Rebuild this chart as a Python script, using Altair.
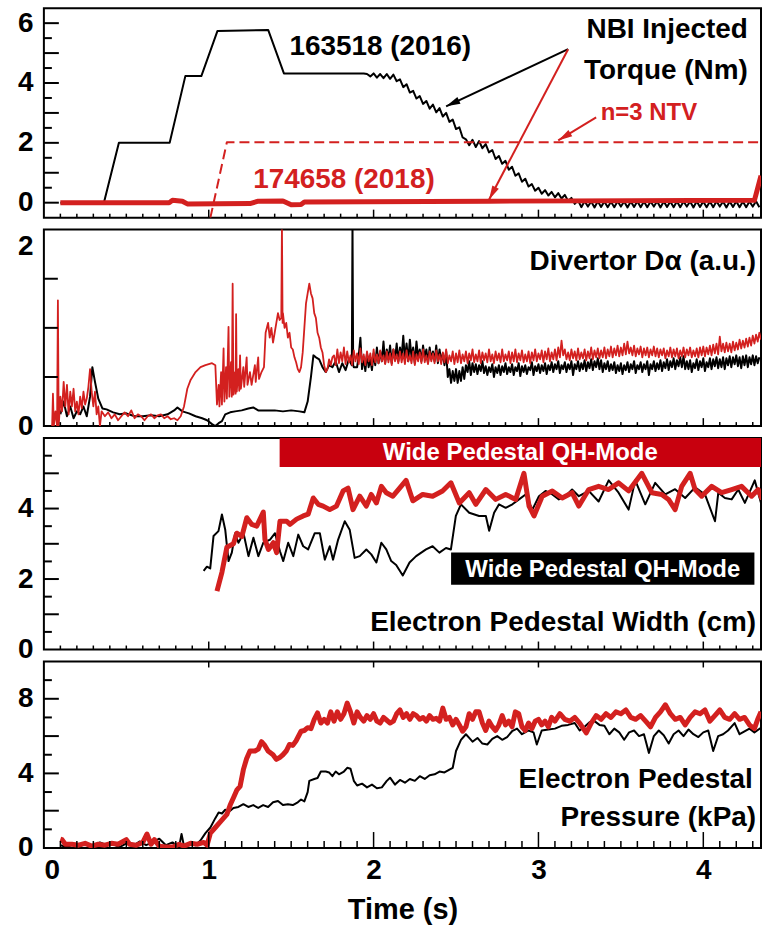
import math

import altair as alt
import numpy as np
import pandas as pd

# ---------------------------------------------------------------- layout
T_MAX = 4.35
PLOT_W = 719
H_TORQUE, H_DALPHA, H_WIDTH, H_PRESS = 210, 197, 212, 187

RED = "#d3201f"
BAR_RED = "#c8000e"
FONT = "Liberation Sans, Arial, sans-serif"

# ---------------------------------------------------------------- NBI torque (Nm)
torque16_t = [0.10, 0.364, 0.455, 0.763, 0.858, 0.955, 1.053, 1.361, 1.456, 1.94]
torque16_v = [0.0, 0.0, 2.0, 2.0, 4.23, 4.23, 5.74, 5.77, 4.32, 4.32]
# sampled every 20 ms from 1.96 s: beam-modulation ripple during the ramp-down
torque16_ripple_start = 1.96
torque16_ripple_v = [
    4.30, 4.22, 4.32, 4.18, 4.30, 4.16, 4.30, 4.14, 4.28, 4.06,
    4.12, 3.86, 3.96, 3.68, 3.74, 3.48, 3.56, 3.30, 3.40, 3.14,
    3.28, 3.02, 3.16, 2.88, 3.00, 2.70, 2.78, 2.46, 2.52, 2.18,
    2.12, 1.92, 2.10, 1.86, 2.06, 1.82, 1.96, 1.68, 1.76, 1.46,
    1.56, 1.30, 1.40, 1.10, 1.20, 0.90, 0.98, 0.70, 0.80, 0.54,
    0.62, 0.40, 0.50, 0.30, 0.42, 0.24, 0.36, 0.18, 0.32, 0.14,
    0.26, 0.06, 0.16, -0.04, 0.08,
    -0.15, 0.05, -0.13, 0.04, -0.16, 0.05, -0.14, 0.04, -0.15, 0.03,
    -0.15, 0.05, -0.13, 0.04, -0.16, 0.04, -0.14, 0.05, -0.15, 0.04,
    -0.15, 0.04, -0.13, 0.05, -0.16, 0.04, -0.14, 0.04, -0.15, 0.05,
    -0.15, 0.04, -0.13, 0.04, -0.16, 0.05, -0.14, 0.04, -0.15, 0.04,
    -0.15, 0.05, -0.13, 0.04, -0.16, 0.04, -0.14, 0.05, -0.15, 0.04,
    -0.15, 0.04, -0.13, 0.05, -0.15,
]
torque18_t = [0.10, 0.76, 0.78, 0.84, 0.87, 1.25, 1.30, 1.45, 1.50, 1.56, 1.58,
              2.70, 4.31, 4.35]
torque18_v = [0.0, 0.0, 0.08, 0.05, -0.04, -0.03, 0.05, 0.06, -0.07, -0.06, 0.02,
              0.05, 0.08, 0.90]
ntv_t = [1.01, 1.11, 4.35]
ntv_v = [-0.5, 2.02, 2.02]

# annotation arrows: tail (t0, v0) -> head (t1, v1)
arrow_t0 = [3.18, 3.18, 3.35]
arrow_v0 = [5.13, 5.13, 2.85]
arrow_t1 = [2.44, 2.70, 3.12]
arrow_v1 = [3.22, 0.10, 2.08]
arrow_color = ["black", RED, RED]

# ---------------------------------------------------------------- divertor D-alpha (a.u.)
dalpha16_t = [0.10, 0.12, 0.14, 0.16, 0.18, 0.20, 0.22, 0.24, 0.26, 0.28, 0.294,
              0.31, 0.33, 0.355, 0.38, 0.42, 0.46, 0.50, 0.55, 0.60, 0.65, 0.70,
              0.75, 0.79, 0.81, 0.84, 0.88, 0.92, 0.96, 0.99, 1.02, 1.04, 1.06,
              1.08, 1.10, 1.13, 1.16, 1.20, 1.24, 1.27, 1.30, 1.35, 1.40, 1.45,
              1.50, 1.55, 1.58, 1.60, 1.62, 1.635, 1.65, 1.67, 1.69, 1.71, 1.73,
              1.75, 1.77, 1.79, 1.81, 1.83, 1.85, 1.868, 1.872, 1.876, 1.88]
dalpha16_v = [0.12, 0.25, 0.10, 0.20, 0.08, 0.15, 0.12, 0.20, 0.10, 0.30, 0.60,
              0.45, 0.28, 0.18, 0.17, 0.14, 0.12, 0.13, 0.10, 0.10, 0.11, 0.10,
              0.12, 0.16, 0.19, 0.15, 0.13, 0.10, 0.08, 0.06, 0.02, 0.00, 0.03,
              0.05, 0.12, 0.14, 0.15, 0.16, 0.18, 0.19, 0.16, 0.16, 0.16, 0.15,
              0.16, 0.15, 0.14, 0.25, 0.50, 0.72, 0.70, 0.68, 0.60, 0.55, 0.62,
              0.60, 0.66, 0.55, 0.64, 0.57, 0.68, 0.62, 2.05, 0.62, 0.60]
# sampled every 10 ms from 1.90 s
dalpha16_noise_start = 1.90
dalpha16_noise_v = [
    0.60, 0.72, 0.90, 0.58, 0.70, 0.56, 0.74, 0.60, 0.68, 0.57, 0.74, 0.62, 0.80, 0.64, 0.76, 0.66, 0.86, 0.64, 0.78, 0.68,
    0.82, 0.64, 0.78, 0.68, 0.84, 0.66, 0.80, 0.70, 0.92, 0.68, 0.84, 0.66, 0.88, 0.70, 0.80, 0.64, 0.86, 0.70, 0.78, 0.66,
    0.82, 0.70, 0.78, 0.64, 0.80, 0.68, 0.76, 0.66, 0.82, 0.64, 0.78, 0.66, 0.74, 0.62, 0.76, 0.50, 0.58, 0.44, 0.56, 0.46,
    0.58, 0.44, 0.56, 0.46, 0.60, 0.48, 0.62, 0.55, 0.66, 0.52, 0.64, 0.55, 0.63, 0.53, 0.62, 0.56, 0.66, 0.54, 0.61, 0.52,
    0.60, 0.55, 0.63, 0.50, 0.60, 0.54, 0.62, 0.52, 0.61, 0.55, 0.64, 0.53, 0.60, 0.55, 0.63, 0.52, 0.60, 0.56, 0.64, 0.51,
    0.61, 0.55, 0.62, 0.53, 0.60, 0.57, 0.65, 0.52, 0.61, 0.56, 0.63, 0.54, 0.62, 0.56, 0.64, 0.53, 0.62, 0.57, 0.65, 0.55,
    0.63, 0.58, 0.66, 0.54, 0.62, 0.58, 0.65, 0.55, 0.63, 0.58, 0.66, 0.52, 0.63, 0.58, 0.66, 0.56, 0.64, 0.58, 0.67, 0.56,
    0.65, 0.59, 0.68, 0.57, 0.66, 0.60, 0.69, 0.58, 0.67, 0.55, 0.64, 0.58, 0.66, 0.56, 0.63, 0.57, 0.65, 0.54, 0.62, 0.56,
    0.64, 0.53, 0.62, 0.57, 0.65, 0.55, 0.63, 0.58, 0.66, 0.54, 0.62, 0.58, 0.65, 0.55, 0.63, 0.58, 0.66, 0.52, 0.63, 0.58,
    0.66, 0.56, 0.64, 0.58, 0.67, 0.56, 0.65, 0.59, 0.68, 0.57, 0.66, 0.60, 0.69, 0.58, 0.67, 0.61, 0.70, 0.60, 0.71, 0.58,
    0.66, 0.58, 0.67, 0.55, 0.64, 0.59, 0.68, 0.57, 0.66, 0.60, 0.69, 0.56, 0.65, 0.60, 0.69, 0.58, 0.68, 0.61, 0.70, 0.59,
    0.68, 0.60, 0.70, 0.58, 0.69, 0.62, 0.71, 0.60, 0.70, 0.63, 0.72, 0.61, 0.70, 0.59, 0.71, 0.62, 0.72, 0.60, 0.70, 0.63,
    0.72, 0.62, 0.71, 0.64, 0.70,
]
dalpha18_t = [0.05, 0.055, 0.06, 0.07, 0.08, 0.085, 0.09, 0.10, 0.11, 0.12,
              0.13, 0.14, 0.15, 0.16, 0.17, 0.18, 0.19, 0.20, 0.21, 0.22,
              0.23, 0.24, 0.25, 0.26, 0.27, 0.28, 0.29, 0.30, 0.31, 0.32,
              0.33, 0.34, 0.35, 0.37, 0.39, 0.41, 0.43, 0.45, 0.47, 0.49,
              0.51, 0.53, 0.55, 0.57, 0.59, 0.61, 0.63, 0.65, 0.67, 0.69,
              0.71, 0.73, 0.75, 0.77, 0.79, 0.81, 0.83, 0.85, 0.87, 0.89,
              0.92, 0.95, 0.98, 1.02, 1.04, 1.05, 1.06, 1.065, 1.075, 1.08,
              1.09, 1.095, 1.105, 1.11, 1.12, 1.125, 1.135, 1.14, 1.145, 1.15,
              1.16, 1.163, 1.166, 1.17, 1.18, 1.185, 1.19, 1.195, 1.21, 1.215,
              1.23, 1.235, 1.25, 1.26, 1.28, 1.285, 1.30, 1.305, 1.32, 1.335,
              1.345, 1.36, 1.37, 1.38, 1.39, 1.40, 1.41, 1.42, 1.43, 1.44,
              1.444, 1.448, 1.45, 1.46, 1.47, 1.48, 1.49, 1.50, 1.51, 1.52,
              1.53, 1.54, 1.55, 1.56, 1.57, 1.58, 1.59, 1.60, 1.61, 1.62,
              1.63, 1.64, 1.65, 1.66, 1.67, 1.68, 1.69, 1.70, 1.71, 1.72,
              1.73, 1.74, 1.75]
dalpha18_v = [0.00, 0.33, 0.00, 0.15, 0.00, 1.28, 0.00, 0.30, 0.15, 0.45,
              0.20, 0.42, 0.12, 0.35, 0.20, 0.38, 0.15, 0.25, 0.12, 0.30,
              0.18, 0.35, 0.22, 0.28, 0.40, 0.58, 0.35, 0.20, 0.35, 0.12,
              0.20, 0.00, 0.15, 0.10, 0.14, 0.08, 0.12, 0.06, 0.10, 0.14,
              0.10, 0.16, 0.08, 0.12, 0.10, 0.06, 0.10, 0.12, 0.08, 0.11,
              0.12, 0.08, 0.10, 0.07, 0.08, 0.06, 0.10, 0.20, 0.38, 0.47,
              0.55, 0.60, 0.62, 0.64, 0.62, 0.22, 0.42, 0.20, 0.55, 0.22,
              0.79, 0.25, 0.60, 0.28, 1.01, 0.30, 0.65, 0.30, 1.45, 0.32,
              0.55, 0.33, 1.14, 0.35, 0.58, 0.36, 0.72, 0.38, 0.60, 0.40,
              0.70, 0.42, 0.55, 0.42, 0.62, 0.45, 0.70, 0.48, 0.55, 0.60,
              0.95, 1.05, 0.90, 1.00, 0.85, 0.95, 1.05, 1.15, 1.08, 1.10,
              2.05, 1.05, 1.15, 1.00, 1.05, 0.90, 0.95, 0.80, 0.78, 0.70,
              0.65, 0.58, 0.55, 0.60, 0.75, 1.00, 1.25, 1.35, 1.45, 1.35,
              1.30, 1.15, 1.10, 0.95, 0.90, 0.80, 0.75, 0.62, 0.55, 0.58,
              0.68, 0.62, 0.70]
# sampled every 10 ms from 1.76 s
dalpha18_noise_start = 1.76
dalpha18_noise_v = [
    0.72, 0.62, 0.78, 0.64, 0.75, 0.66, 0.80, 0.63, 0.76, 0.65, 0.72, 0.62, 0.77, 0.66, 0.74, 0.63, 0.79, 0.65, 0.73, 0.62,
    0.76, 0.66, 0.74, 0.62, 0.78, 0.65, 0.73, 0.64, 0.77, 0.66, 0.72, 0.63, 0.76, 0.65, 0.74, 0.62, 0.78, 0.66, 0.73, 0.64,
    0.76, 0.65, 0.74, 0.63, 0.77, 0.66, 0.72, 0.64, 0.76, 0.62, 0.73, 0.66, 0.75, 0.64, 0.78, 0.65, 0.72, 0.63, 0.76, 0.66,
    0.74, 0.64, 0.77, 0.66, 0.73, 0.63, 0.75, 0.65, 0.78, 0.64, 0.72, 0.66, 0.76, 0.63, 0.74, 0.65, 0.77, 0.64, 0.73, 0.66,
    0.76, 0.64, 0.74, 0.67, 0.78, 0.65, 0.73, 0.66, 0.77, 0.64, 0.75, 0.67, 0.74, 0.65, 0.78, 0.66, 0.73, 0.64, 0.76, 0.67,
    0.74, 0.65, 0.78, 0.66, 0.73, 0.67, 0.76, 0.64, 0.75, 0.66, 0.78, 0.65, 0.74, 0.67, 0.77, 0.65, 0.73, 0.66, 0.76, 0.64,
    0.75, 0.67, 0.78, 0.66, 0.74, 0.68, 0.77, 0.65, 0.76, 0.68, 0.79, 0.66, 0.75, 0.68, 0.78, 0.67, 0.80, 0.70, 0.87, 0.72,
    0.78, 0.68, 0.75, 0.67, 0.78, 0.69, 0.76, 0.67, 0.79, 0.68, 0.75, 0.69, 0.78, 0.67, 0.76, 0.69, 0.80, 0.68, 0.77, 0.70,
    0.79, 0.69, 0.77, 0.70, 0.80, 0.69, 0.78, 0.71, 0.81, 0.70, 0.79, 0.72, 0.82, 0.71, 0.80, 0.72, 0.84, 0.73, 0.86, 0.74,
    0.80, 0.72, 0.82, 0.71, 0.79, 0.73, 0.81, 0.70, 0.79, 0.72, 0.80, 0.70, 0.78, 0.72, 0.81, 0.71, 0.79, 0.70, 0.78, 0.72,
    0.79, 0.69, 0.77, 0.71, 0.80, 0.70, 0.78, 0.71, 0.79, 0.69, 0.77, 0.71, 0.80, 0.70, 0.78, 0.72, 0.80, 0.70, 0.77, 0.71,
    0.79, 0.70, 0.80, 0.72, 0.81, 0.71, 0.80, 0.73, 0.82, 0.72, 0.83, 0.74, 0.84, 0.73, 0.91, 0.76, 0.84, 0.75, 0.85, 0.76,
    0.84, 0.75, 0.86, 0.77, 0.85, 0.78, 0.88, 0.79, 0.87, 0.80, 0.89, 0.81, 0.90, 0.82, 0.92, 0.84, 0.93, 0.86, 0.95, 0.88,
]

# ---------------------------------------------------------------- pedestal width (cm)
width16_t = [0.969, 0.989, 1.009, 1.029, 1.059, 1.080, 1.100, 1.120, 1.140, 1.160,
             1.180, 1.211, 1.241, 1.271, 1.301, 1.331, 1.372, 1.402, 1.432, 1.452,
             1.482, 1.513, 1.543, 1.573, 1.603, 1.643, 1.674, 1.704, 1.734, 1.754,
             1.785, 1.825, 1.855, 1.885, 1.916, 1.956, 1.986, 2.017, 2.047, 2.077,
             2.107, 2.137, 2.177, 2.218, 2.258, 2.318, 2.358, 2.399, 2.439, 2.469,
             2.499, 2.530, 2.580, 2.640, 2.681, 2.701, 2.731, 2.761, 2.801, 2.842,
             2.882, 2.922, 2.963, 3.003, 3.043, 3.084, 3.124, 3.164, 3.204, 3.245,
             3.305, 3.365, 3.426, 3.486, 3.547, 3.587, 3.648, 3.708, 3.769, 3.829,
             3.890, 3.950, 4.010, 4.071, 4.091, 4.131, 4.172, 4.212, 4.252, 4.312,
             4.350]
width16_v = [2.23, 2.35, 2.30, 3.22, 3.36, 3.83, 3.40, 2.51, 2.75, 3.30,
             3.03, 3.30, 2.65, 3.17, 2.65, 3.03, 3.12, 3.30, 2.79, 2.51,
             3.03, 2.65, 3.26, 2.93, 2.84, 3.30, 3.30, 2.55, 2.93, 2.55,
             3.12, 3.64, 3.40, 2.60, 2.65, 2.84, 2.70, 2.47, 3.03, 2.84,
             2.51, 2.40, 2.10, 2.47, 2.65, 2.84, 2.93, 2.75, 2.88, 2.84,
             3.79, 4.12, 3.88, 3.79, 3.79, 3.37, 3.88, 4.12, 4.02, 4.12,
             4.26, 4.40, 3.97, 4.35, 4.50, 4.40, 4.26, 4.35, 4.54, 4.35,
             4.50, 4.20, 4.80, 4.45, 3.97, 4.80, 4.12, 4.73, 4.40, 4.55,
             4.30, 4.60, 4.40, 3.64, 4.45, 4.30, 4.26, 4.54, 4.16, 4.80,
             4.16]
width18_t = [1.050, 1.080, 1.110, 1.150, 1.170, 1.201, 1.231, 1.261, 1.291, 1.331,
             1.341, 1.362, 1.392, 1.412, 1.432, 1.473, 1.493, 1.533, 1.573, 1.603,
             1.634, 1.664, 1.694, 1.734, 1.775, 1.815, 1.845, 1.875, 1.916, 1.956,
             1.986, 2.017, 2.047, 2.077, 2.117, 2.158, 2.197, 2.238, 2.298, 2.358,
             2.418, 2.469, 2.520, 2.580, 2.620, 2.681, 2.741, 2.801, 2.862, 2.912,
             2.943, 2.973, 3.023, 3.084, 3.144, 3.204, 3.245, 3.305, 3.365, 3.426,
             3.486, 3.547, 3.627, 3.688, 3.748, 3.789, 3.829, 3.869, 3.920, 3.950,
             3.990, 4.051, 4.111, 4.172, 4.232, 4.293, 4.333, 4.357]
width18_v = [1.66, 2.19, 2.90, 3.00, 3.30, 3.21, 3.74, 3.55, 3.50, 3.90,
             3.12, 2.84, 3.03, 2.75, 3.64, 3.64, 3.55, 3.70, 3.79, 3.84,
             4.30, 4.12, 4.07, 3.97, 4.07, 4.50, 4.58, 3.97, 4.35, 4.07,
             4.40, 4.16, 4.63, 4.45, 4.35, 4.58, 4.80, 4.22, 4.40, 4.35,
             4.50, 4.73, 4.16, 4.45, 4.12, 4.54, 4.26, 4.40, 4.26, 5.00,
             4.07, 3.79, 4.35, 4.50, 4.30, 4.45, 4.07, 4.54, 4.63, 4.54,
             4.73, 4.50, 5.00, 4.45, 4.40, 4.26, 3.97, 4.63, 5.00, 4.54,
             4.35, 4.63, 4.45, 4.54, 4.63, 4.35, 4.54, 4.26]

# wide-pedestal QH-mode windows: time span and vertical band in cm
qh_label = ["Wide Pedestal QH-Mode", "Wide Pedestal QH-Mode"]
qh_t0 = [1.43, 2.47]
qh_t1 = [4.35, 4.31]
qh_v0 = [5.18, 1.84]
qh_v1 = [6.0, 2.75]
qh_fill = [BAR_RED, "black"]

# ---------------------------------------------------------------- pedestal pressure (kPa)
press16_t = [0.10, 0.14, 0.18, 0.22, 0.26, 0.30, 0.34, 0.38, 0.42, 0.46,
             0.50, 0.54, 0.58, 0.62, 0.66, 0.70, 0.74, 0.78, 0.82, 0.835,
             0.85, 0.88, 0.92, 0.95, 0.98, 1.01, 1.04, 1.06, 1.08, 1.10,
             1.13, 1.15, 1.18, 1.21, 1.24, 1.27, 1.30, 1.33, 1.36, 1.39,
             1.42, 1.45, 1.48, 1.51, 1.54, 1.56, 1.58, 1.60, 1.61, 1.64,
             1.66, 1.68, 1.71, 1.73, 1.75, 1.77, 1.79, 1.82, 1.84, 1.86,
             1.88, 1.90, 1.93, 1.96, 1.99, 2.02, 2.05, 2.08, 2.10, 2.13,
             2.16, 2.19, 2.22, 2.25, 2.28, 2.31, 2.34, 2.37, 2.40, 2.43,
             2.46, 2.48, 2.50, 2.53, 2.56, 2.58, 2.60, 2.63, 2.66, 2.69,
             2.72, 2.75, 2.78, 2.81, 2.84, 2.87, 2.90, 2.94, 2.97, 2.99,
             3.02, 3.06, 3.10, 3.14, 3.18, 3.22, 3.25, 3.28, 3.31, 3.34,
             3.37, 3.40, 3.43, 3.46, 3.49, 3.52, 3.55, 3.58, 3.61, 3.64,
             3.67, 3.70, 3.73, 3.76, 3.79, 3.82, 3.85, 3.88, 3.91, 3.94,
             3.97, 4.00, 4.03, 4.06, 4.09, 4.12, 4.15, 4.19, 4.22, 4.25,
             4.28, 4.31, 4.35]
press16_v = [0.15, 0.05, 0.20, 0.10, 0.25, 0.10, 0.30, 0.15, 0.20, 0.05,
             0.25, 0.10, 0.35, 0.15, 0.30, 0.50, 0.15, 0.30, 0.05, 0.75,
             0.10, 0.25, 0.15, 0.40, 0.80, 1.10, 1.60, 1.90, 1.85, 2.05,
             2.00, 2.15, 2.20, 2.35, 2.20, 2.30, 2.15, 2.30, 2.20, 2.45,
             2.52, 2.30, 2.35, 2.30, 2.45, 2.60, 2.50, 3.00, 3.60, 3.70,
             3.75, 4.10, 4.10, 4.05, 3.85, 4.10, 3.95, 4.10, 4.30, 4.25,
             3.60, 3.35, 3.45, 3.25, 3.40, 3.20, 3.25, 3.60, 3.77, 3.40,
             3.65, 3.50, 3.70, 3.60, 3.85, 3.70, 3.90, 3.95, 4.10, 4.05,
             4.20, 4.30, 5.20, 5.80, 6.10, 5.90, 5.70, 5.90, 5.60, 5.55,
             5.85, 6.00, 5.80, 5.95, 6.26, 6.40, 6.10, 6.30, 6.20, 5.55,
             6.30, 6.35, 6.40, 6.55, 6.60, 6.70, 6.30, 6.50, 6.75, 6.80,
             6.60, 6.55, 6.10, 6.40, 6.20, 5.80, 6.20, 6.30, 6.00, 6.10,
             5.10, 6.00, 6.30, 6.05, 5.60, 6.10, 6.30, 6.00, 6.35, 6.10,
             5.95, 6.20, 6.30, 5.20, 6.00, 6.10, 6.30, 6.70, 6.10, 6.25,
             6.40, 6.20, 6.45]
press18_t = [0.10, 0.11, 0.13, 0.17, 0.21, 0.25, 0.29, 0.33, 0.37, 0.41,
             0.45, 0.50, 0.52, 0.56, 0.60, 0.625, 0.65, 0.67, 0.70, 0.74,
             0.78, 0.82, 0.85, 0.89, 0.93, 0.97, 0.99, 1.01, 1.04, 1.07,
             1.09, 1.11, 1.13, 1.15, 1.17, 1.19, 1.21, 1.23, 1.25, 1.28,
             1.30, 1.32, 1.34, 1.36, 1.39, 1.41, 1.43, 1.45, 1.47, 1.49,
             1.51, 1.53, 1.56, 1.58, 1.60, 1.62, 1.64, 1.66, 1.68, 1.70,
             1.72, 1.74, 1.76, 1.78, 1.80, 1.82, 1.84, 1.86, 1.88, 1.90,
             1.92, 1.94, 1.96, 1.98, 2.00, 2.02, 2.04, 2.06, 2.08, 2.10,
             2.12, 2.14, 2.16, 2.18, 2.20, 2.22, 2.24, 2.26, 2.28, 2.30,
             2.32, 2.34, 2.36, 2.38, 2.40, 2.42, 2.44, 2.46, 2.48, 2.50,
             2.52, 2.54, 2.56, 2.58, 2.60, 2.62, 2.64, 2.66, 2.68, 2.70,
             2.72, 2.74, 2.76, 2.78, 2.80, 2.82, 2.84, 2.86, 2.88, 2.90,
             2.92, 2.94, 2.96, 2.98, 3.00, 3.02, 3.04, 3.06, 3.08, 3.10,
             3.13, 3.16, 3.19, 3.22, 3.25, 3.29, 3.32, 3.35, 3.38, 3.41,
             3.44, 3.47, 3.50, 3.53, 3.56, 3.59, 3.62, 3.65, 3.68, 3.71,
             3.74, 3.77, 3.80, 3.83, 3.86, 3.89, 3.92, 3.95, 3.98, 4.01,
             4.04, 4.07, 4.10, 4.13, 4.16, 4.19, 4.22, 4.25, 4.28, 4.31,
             4.33, 4.35]
press18_v = [0.48, 0.45, 0.20, 0.20, 0.15, 0.25, 0.10, 0.20, 0.15, 0.25,
             0.20, 0.45, 0.20, 0.15, 0.30, 0.75, 0.20, 0.45, 0.10, 0.05,
             0.05, 0.20, 0.10, 0.25, 0.20, 0.30, 0.15, 0.80, 1.10, 1.40,
             1.60, 1.80, 2.30, 2.70, 3.10, 3.30, 4.20, 4.80, 5.20, 5.20,
             5.30, 5.70, 5.50, 5.20, 5.00, 4.75, 4.85, 5.00, 5.20, 5.55,
             5.50, 5.75, 6.26, 6.30, 6.45, 6.40, 6.90, 7.24, 6.70, 6.90,
             6.70, 7.30, 6.80, 7.30, 6.90, 7.20, 7.77, 7.30, 6.70, 7.30,
             7.00, 6.80, 7.10, 6.90, 7.20, 6.80, 6.70, 7.00, 6.85, 6.70,
             6.80, 7.20, 7.40, 7.00, 7.20, 6.90, 7.20, 7.10, 6.90, 7.00,
             6.80, 7.10, 6.90, 6.95, 6.80, 7.50, 6.90, 7.00, 6.60, 6.90,
             6.60, 6.26, 6.50, 7.20, 6.90, 7.30, 7.30, 6.70, 6.30, 6.80,
             6.50, 6.30, 6.60, 7.10, 6.60, 6.80, 6.50, 7.30, 7.20, 6.50,
             6.30, 6.70, 6.40, 6.80, 6.90, 6.60, 6.80, 6.50, 7.00, 6.80,
             7.20, 6.90, 6.80, 7.00, 6.70, 6.17, 6.70, 7.10, 6.90, 7.20,
             7.00, 7.30, 7.20, 7.40, 7.00, 6.90, 7.10, 6.80, 6.50, 7.00,
             7.30, 7.68, 7.20, 6.90, 7.00, 6.60, 7.00, 7.30, 7.20, 7.40,
             6.80, 7.10, 7.40, 7.00, 6.90, 7.20, 6.90, 7.00, 6.60, 6.40,
             6.90, 7.30]

# ---------------------------------------------------------------- panel text
torque_notes = [
    # label, t, v, colour, size, align
    ("163518 (2016)", 2.04, 5.20, "black", 28, "center"),
    ("NBI Injected", 4.27, 5.77, "black", 28, "right"),
    ("Torque (Nm)", 4.27, 4.39, "black", 28, "right"),
    ("n=3 NTV", 3.67, 3.00, RED, 24, "center"),
    ("174658 (2018)", 1.82, 0.77, RED, 28, "center"),
]
dalpha_notes = [("Divertor D\u03b1 (a.u.)", 4.32, 1.67, "black", 28, "right")]
width_notes = [("Electron Pedestal Width (cm)", 4.32, 0.74, "black", 28, "right")]
press_notes = [
    ("Electron Pedestal", 4.30, 3.66, "black", 28, "right"),
    ("Pressure (kPa)", 4.32, 1.63, "black", 28, "right"),
]

# ---------------------------------------------------------------- tick marks
x_minor = [round(0.1 * i, 1) for i in range(1, 44) if i % 10 != 0]
x_major = [1, 2, 3, 4]


def uniform_times(start, values, step):
    return list(np.round(start + step * np.arange(len(values)), 3))


X_SCALE = alt.Scale(domain=[0, T_MAX], nice=False, zero=False)


def yscale(lo, hi):
    return alt.Scale(domain=[lo, hi], nice=False, zero=False)


def y_axis(values, offset_top=None):
    kw = dict(values=values, format="d", ticks=False, domain=False, grid=False,
              labelFont=FONT, labelFontSize=28, labelFontWeight="bold",
              labelColor="black", labelPadding=11, title=None)
    if offset_top is not None:
        kw["labelOffset"] = alt.condition(f"datum.value == {offset_top}",
                                          alt.value(17), alt.value(0))
    return alt.Axis(**kw)


X_AXIS_BOTTOM = alt.Axis(values=[0, 1, 2, 3, 4], format="d", ticks=False, domain=False,
                         grid=False, labelFont=FONT, labelFontSize=28,
                         labelFontWeight="bold", labelColor="black", labelPadding=9,
                         title="Time (s)", titleFont=FONT, titleFontSize=29,
                         titleFontWeight="bold", titleColor="black", titlePadding=11)


class Panel:
    """Shared scales and axes for every layer of one stacked panel."""

    def __init__(self, ys, height, yaxis, xaxis=None):
        self.ys, self.height, self.yaxis, self.xaxis = ys, height, yaxis, xaxis

    def X(self, field):
        return alt.X(f"{field}:Q", scale=X_SCALE, axis=self.xaxis)

    def Y(self, field):
        return alt.Y(f"{field}:Q", scale=self.ys, axis=self.yaxis)

    def series(self, t, v, color, width, dash=None):
        df = pd.DataFrame({"t": t, "v": v})
        kw = dict(color=color, strokeWidth=width, clip=True, strokeJoin="round")
        if dash:
            kw["strokeDash"] = dash
        return alt.Chart(df).mark_line(**kw).encode(
            x=self.X("t"), y=self.Y("v"), order="idx:Q",
        ).transform_window(idx="row_number()")

    def notes(self, items):
        layers = []
        for label, t, v, color, size, align in items:
            df = pd.DataFrame({"t": [t], "v": [v], "label": [label]})
            layers.append(
                alt.Chart(df).mark_text(font=FONT, fontSize=size, fontWeight="bold",
                                        color=color, align=align, baseline="middle")
                .encode(x=self.X("t"), y=self.Y("v"), text="label:N"))
        return layers

    def y_ticks(self, values, length):
        df = pd.DataFrame({"v": values})
        return alt.Chart(df).mark_rule(color="black", strokeWidth=2).encode(
            y=self.Y("v"), x=alt.value(0), x2=alt.value(length))

    def x_ticks(self, values, length, top=False):
        df = pd.DataFrame({"t": values})
        y0, y1 = (0, length) if top else (self.height, self.height - length)
        return alt.Chart(df).mark_rule(color="black", strokeWidth=1.5).encode(
            x=self.X("t"), y=alt.value(y0), y2=alt.value(y1))


# ---------------------------------------------------------------- panel 1: torque
P1 = Panel(yscale(-0.5, 6.5), H_TORQUE, y_axis([0, 2, 4, 6]))
sx = PLOT_W / T_MAX
sy1 = H_TORQUE / 7.0
arrow_df = pd.DataFrame({"t0": arrow_t0, "v0": arrow_v0, "t1": arrow_t1, "v1": arrow_v1,
                         "c": arrow_color})
arrow_df["ang"] = [
    math.degrees(math.atan2((b - a) * sx, (d - c) * sy1)) % 360
    for a, b, c, d in zip(arrow_t0, arrow_t1, arrow_v0, arrow_v1)
]
ARROW_HEAD = "M0,0 L0.62,2.4 L-0.62,2.4 Z"
shafts = alt.Chart(arrow_df).mark_rule(strokeWidth=2).encode(
    x=P1.X("t0"), y=P1.Y("v0"), x2="t1:Q", y2="v1:Q",
    color=alt.Color("c:N", scale=None))
heads = alt.Chart(arrow_df).mark_point(shape=ARROW_HEAD, filled=True, size=140, opacity=1,
                                       strokeWidth=0).encode(
    x=P1.X("t1"), y=P1.Y("v1"),
    angle=alt.Angle("ang:Q", scale=None), color=alt.Color("c:N", scale=None))

torque16_all_t = torque16_t + uniform_times(torque16_ripple_start, torque16_ripple_v, 0.02)
torque16_all_v = torque16_v + torque16_ripple_v

p1 = alt.layer(
    P1.series(torque16_all_t, torque16_all_v, "black", 2),
    P1.series(ntv_t, ntv_v, RED, 2, dash=[10, 5]),
    P1.series(torque18_t, torque18_v, RED, 5),
    shafts, heads,
    *P1.notes(torque_notes),
    P1.y_ticks([0, 1, 2, 3, 4, 5, 6], 15),
    P1.y_ticks([0.5, 1.5, 2.5, 3.5, 4.5, 5.5], 8),
    P1.x_ticks(x_minor, 4), P1.x_ticks(x_major, 8),
).properties(width=PLOT_W, height=H_TORQUE)

# ---------------------------------------------------------------- panel 2: D-alpha
P2 = Panel(yscale(0, 2), H_DALPHA, y_axis([0, 1, 2], offset_top=2))
p2 = alt.layer(
    P2.series(dalpha16_t + uniform_times(dalpha16_noise_start, dalpha16_noise_v, 0.01),
              dalpha16_v + dalpha16_noise_v, "black", 2),
    P2.series(dalpha18_t + uniform_times(dalpha18_noise_start, dalpha18_noise_v, 0.01),
              dalpha18_v + dalpha18_noise_v, RED, 1.8),
    *P2.notes(dalpha_notes),
    P2.y_ticks([0.5, 1.0, 1.5], 14),
    P2.x_ticks(x_minor, 4), P2.x_ticks(x_major, 8),
).properties(width=PLOT_W, height=H_DALPHA)

# ---------------------------------------------------------------- panel 3: pedestal width
P3 = Panel(yscale(0, 6), H_WIDTH, y_axis([0, 2, 4]))
qh_df = pd.DataFrame({"t0": qh_t0, "t1": qh_t1, "v0": qh_v0, "v1": qh_v1,
                      "fill": qh_fill, "label": qh_label})
qh_df["tm"] = [(a + b) / 2 for a, b in zip(qh_t0, qh_t1)]
qh_df["vm"] = [(a + b) / 2 for a, b in zip(qh_v0, qh_v1)]
qh_bars = alt.Chart(qh_df).mark_rect().encode(
    x=P3.X("t0"), x2="t1:Q", y=P3.Y("v0"), y2="v1:Q",
    color=alt.Color("fill:N", scale=None))
qh_text = alt.Chart(qh_df).mark_text(font=FONT, fontSize=24, fontWeight="bold",
                                     color="white", baseline="middle", dy=1).encode(
    x=P3.X("tm"), y=P3.Y("vm"), text="label:N")

p3 = alt.layer(
    P3.series(width16_t, width16_v, "black", 2),
    P3.series(width18_t, width18_v, RED, 5),
    qh_bars, qh_text,
    *P3.notes(width_notes),
    P3.y_ticks([1, 2, 3, 4, 5], 15),
    P3.y_ticks([0.5, 1.5, 2.5, 3.5, 4.5, 5.5], 8),
    P3.x_ticks(x_minor, 4), P3.x_ticks(x_major, 8),
).properties(width=PLOT_W, height=H_WIDTH)

# ---------------------------------------------------------------- panel 4: pedestal pressure
P4 = Panel(yscale(0, 10), H_PRESS, y_axis([0, 4, 8]), xaxis=X_AXIS_BOTTOM)
p4 = alt.layer(
    P4.series(press16_t, press16_v, "black", 2),
    P4.series(press18_t, press18_v, RED, 5),
    *P4.notes(press_notes),
    P4.y_ticks([2, 4, 6, 8], 15),
    P4.y_ticks([1, 3, 5, 7, 9], 8),
    P4.x_ticks(x_minor, 7), P4.x_ticks(x_major, 16),
    P4.x_ticks(x_major, 6, top=True),
).properties(width=PLOT_W, height=H_PRESS)

chart = (
    alt.vconcat(p1, p2, p3, p4, spacing=12, bounds="flush")
    .properties(padding={"left": 16, "top": 6, "right": 2, "bottom": 4},
                background="white")
    .configure_view(stroke="black", strokeWidth=2)
)

chart.save("out.html", embed_options={"renderer": "svg", "actions": False})
